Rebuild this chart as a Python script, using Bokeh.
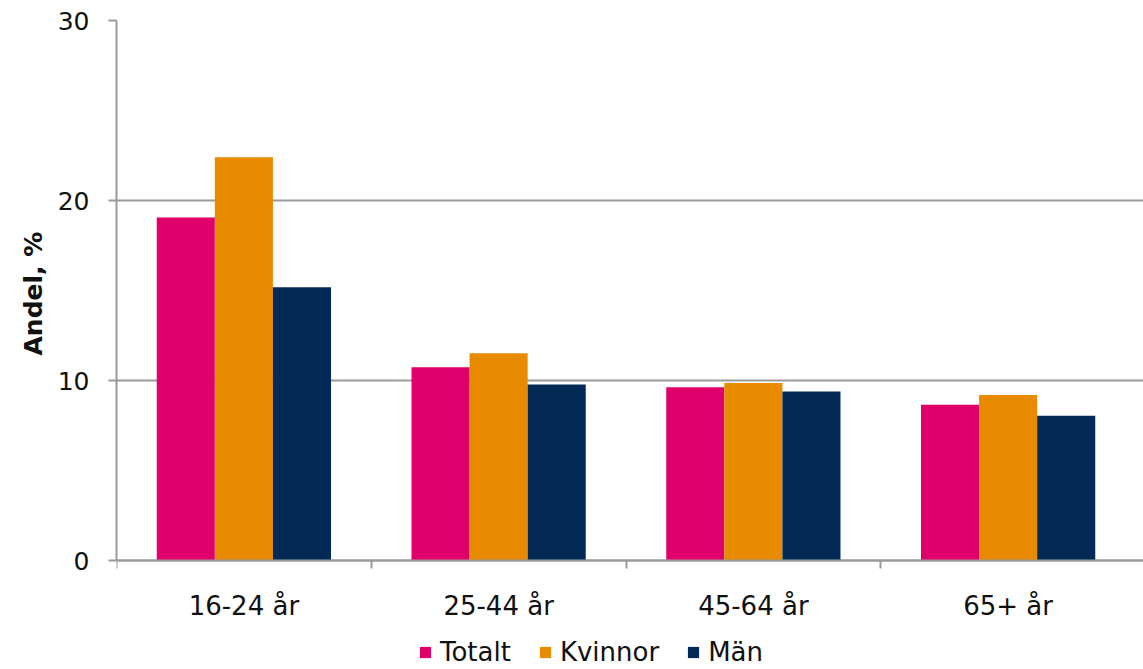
import numpy as np
from bokeh.plotting import figure
from bokeh.models import Range1d, FixedTicker, Legend, LegendItem, Title
from bokeh.embed import file_html
from bokeh.resources import INLINE

categories = ["16-24 år", "25-44 år", "45-64 år", "65+ år"]
series = ["Totalt", "Kvinnor", "Män"]
totalt = [19.05, 10.74, 9.63, 8.65]
kvinnor = [22.40, 11.52, 9.86, 9.19]
man = [15.18, 9.78, 9.39, 8.04]
colors = ["#E0006B", "#E88B00", "#032A57"]
y_ticks = [0, 10, 20, 30]
y_label = "Andel, %"

W, H = 1143, 669
LEFT, TOP = 116, 20
PX_PER_UNIT = 18.0
FONT = "DejaVu Sans"
GRAY = "#9a9a9a"

frame_h = H - TOP
y_start = 30 - frame_h / PX_PER_UNIT
x_end = len(categories) * (W - LEFT) / 1019.0

p = figure(width=W, height=H, output_backend="svg", toolbar_location=None,
           x_range=Range1d(0, x_end), y_range=Range1d(y_start, 30),
           min_border_left=LEFT, min_border_top=TOP, min_border_right=0,
           min_border_bottom=0)
p.outline_line_color = None
p.background_fill_color = "white"

centers = np.arange(len(categories)) + 0.5
bar_w = 0.228
renderers = []
for i, (vals, col) in enumerate(zip([totalt, kvinnor, man], colors)):
    r = p.vbar(x=centers + (i - 1) * bar_w, top=vals, bottom=0, width=bar_w,
               fill_color=col, line_color=None)
    renderers.append(r)

# x axis (fixed at y=0 inside the frame)
xa = p.xaxis[0]
xa.fixed_location = 0
xa.ticker = FixedTicker(ticks=list(centers), minor_ticks=list(range(len(categories))))
xa.major_label_overrides = {float(c): lab for c, lab in zip(centers, categories)}
xa.major_tick_line_color = None
xa.major_tick_out = 0
xa.major_tick_in = 0
xa.minor_tick_out = 8
xa.minor_tick_in = 0
xa.minor_tick_line_color = GRAY
xa.minor_tick_line_width = 2
xa.axis_line_color = GRAY
xa.axis_line_width = 2
xa.major_label_text_font = FONT
xa.major_label_text_font_size = "26px"
xa.major_label_text_color = "#111111"
xa.major_label_standoff = 22

# y axis
ya = p.yaxis[0]
ya.bounds = (0, 30)
ya.ticker = FixedTicker(ticks=y_ticks)
ya.major_tick_out = 8
ya.major_tick_in = 0
ya.major_tick_line_color = GRAY
ya.major_tick_line_width = 2
ya.minor_tick_line_color = None
ya.axis_line_color = GRAY
ya.axis_line_width = 2
ya.major_label_text_font = FONT
ya.major_label_text_font_size = "25px"
ya.major_label_text_color = "#111111"
ya.major_label_standoff = 19

# y axis title, placed next to the 0-30 span of the axis
ytitle = Title(text=y_label, align="left", offset=H - 355,
               text_font=FONT, text_font_style="bold", text_font_size="25px",
               text_color="#111111", standoff=13)
p.add_layout(ytitle, "left")

p.xgrid.visible = False
p.ygrid.ticker = FixedTicker(ticks=y_ticks)
p.ygrid.grid_line_color = GRAY
p.ygrid.grid_line_width = 2

legend = Legend(items=[LegendItem(label=s, renderers=[r]) for s, r in zip(series, renderers)],
                orientation="horizontal", location=(302, 2),
                label_text_font=FONT, label_text_font_size="26px",
                label_text_color="#111111",
                glyph_width=14, glyph_height=14, label_standoff=8, spacing=27,
                padding=0, margin=0, border_line_color=None,
                background_fill_alpha=0)
p.add_layout(legend, "center")

open("out.html", "w").write(file_html(p, INLINE))
